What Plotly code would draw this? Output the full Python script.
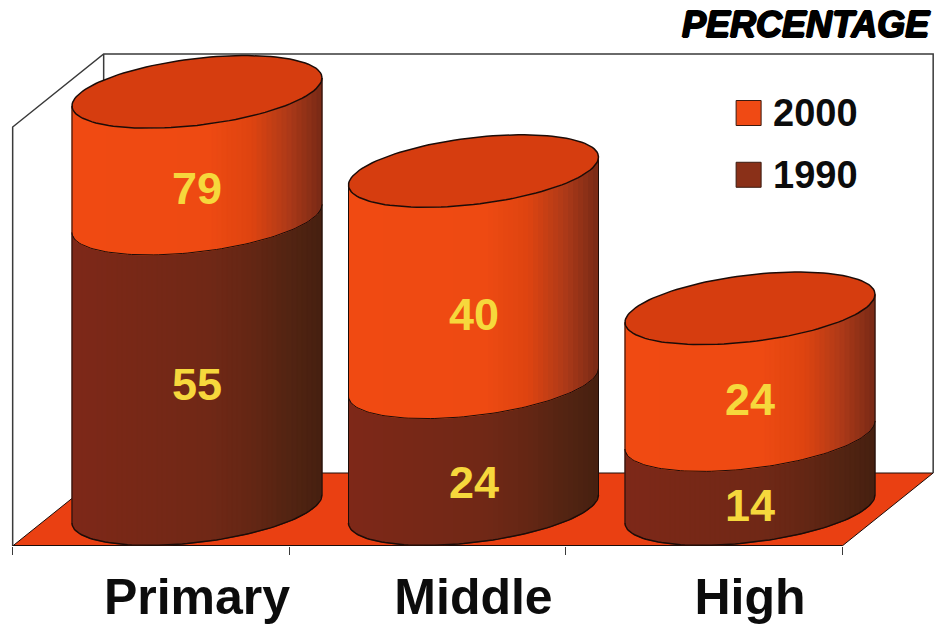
import numpy as np
import plotly.graph_objects as go

categories = ["Primary", "Middle", "High"]
# the printed 2000 label is not always the drawn height, so keep both
values_1990 = [55, 24, 14]
tops_2000 = [79, 64, 38]
labels_2000 = [79, 40, 24]
labels_1990 = [55, 24, 14]
legend_years = ["2000", "1990"]

# styling and geometry of the fake 3D
PX_X = 276.5  # pixels per category
PX_Y = 5.28  # pixels per value unit
X0_PX, Y0_PX = 197.0, 509.0
AXIS_PX = 546.0
HALF_W = 125 / PX_X
TILT = 14 / PX_Y
MINOR = 33.5 / PX_Y
DEPTH_X, DEPTH_Y = 91 / PX_X, 73 / PX_Y
FLOOR_Y = (Y0_PX - AXIS_PX) / PX_Y
WALL_TOP = (Y0_PX - 54) / PX_Y
STRIPS = 50
STOPS = [0, 0.55, 0.72, 0.86, 1]
R_2000 = [[240, 74, 18], [238, 74, 18], [222, 68, 16], [176, 58, 24], [120, 42, 22]]
R_1990 = [[126, 40, 24], [112, 40, 22], [100, 38, 20], [84, 36, 18], [70, 32, 16]]
TOP_COLOR = "#D63D0F"
FLOOR_COLOR = "#EA4012"
OUTLINE = "#1c0c08"
FRAME = "#3a3a3a"
YELLOW = "#F6D83C"
LABEL_NUDGE_2000 = [0, 4, -6]
LABEL_NUDGE_1990 = [13, -3, 0]


def shade(stops, u):
    rgb = [np.interp(u, STOPS, [s[i] for s in stops]) for i in range(3)]
    return "rgb({:.0f},{:.0f},{:.0f})".format(*rgb)


def front_offset(dx):
    # how far the front rim sits from the ellipse centre at horizontal offset dx
    t = np.arccos(np.clip(dx / HALF_W, -1, 1))
    return TILT * np.cos(t) - MINOR * np.sin(t)


def add_band(fig, cx, lo, hi, stops):
    edges = np.linspace(-HALF_W, HALF_W, STRIPS + 1)
    for i in range(STRIPS):
        d1, d2 = edges[i], edges[i + 1]
        o1, o2 = front_offset(d1), front_offset(d2)
        col = shade(stops, (i + 0.5) / STRIPS)
        fig.add_trace(
            go.Scatter(
                x=[cx + d1, cx + d2, cx + d2, cx + d1, cx + d1],
                y=[lo + o1, lo + o2, hi + o2, hi + o1, lo + o1],
                mode="lines",
                fill="toself",
                fillcolor=col,
                line=dict(color=col, width=1),
                hoverinfo="skip",
            )
        )


fig = go.Figure()

for i, cat in enumerate(categories):
    add_band(fig, i, 0, values_1990[i], R_1990)
    add_band(fig, i, values_1990[i], tops_2000[i], R_2000)

    # top cap
    t = np.linspace(0, 2 * np.pi, 121)
    fig.add_trace(
        go.Scatter(
            x=i + HALF_W * np.cos(t),
            y=tops_2000[i] + TILT * np.cos(t) + MINOR * np.sin(t),
            mode="lines",
            fill="toself",
            fillcolor=TOP_COLOR,
            line=dict(color=OUTLINE, width=1.5),
            hoverinfo="skip",
        )
    )

    # rims and sides
    dx = HALF_W * np.cos(np.linspace(0, np.pi, 81))
    for level, w in [(0, 1.5), (values_1990[i], 1)]:
        fig.add_trace(
            go.Scatter(
                x=i + dx,
                y=level + front_offset(dx),
                mode="lines",
                line=dict(color=OUTLINE, width=w),
                hoverinfo="skip",
            )
        )
    for side in (-1, 1):
        d = side * HALF_W
        fig.add_trace(
            go.Scatter(
                x=[i + d, i + d],
                y=[front_offset(d), tops_2000[i] + front_offset(d)],
                mode="lines",
                line=dict(color=OUTLINE, width=1),
                hoverinfo="skip",
            )
        )

    # value labels, centred on the front of each band
    mid_2000 = (values_1990[i] + tops_2000[i]) / 2 - MINOR
    mid_1990 = values_1990[i] / 2 - MINOR
    fig.add_annotation(
        x=i, y=mid_2000, text=f"<b>{labels_2000[i]}</b>", showarrow=False,
        yshift=-LABEL_NUDGE_2000[i], font=dict(size=45, color=YELLOW),
    )
    fig.add_annotation(
        x=i, y=mid_1990, text=f"<b>{labels_1990[i]}</b>", showarrow=False,
        yshift=LABEL_NUDGE_1990[i], font=dict(size=45, color=YELLOW),
    )

# legend keys
for year, col, ly in zip(legend_years, ["#F04A14", "#8A3018"], [75, 63.3]):
    fig.add_trace(
        go.Scatter(
            x=[1.995],
            y=[ly],
            mode="markers",
            marker=dict(symbol="square", size=25, color=col, line=dict(color="#3a1a10", width=1)),
            hoverinfo="skip",
        )
    )
    fig.add_annotation(
        x=2.075, y=ly, xanchor="left", text=f"<b>{year}</b>", showarrow=False,
        font=dict(size=38, color="#0c0c0c"),
    )

fig.add_annotation(
    xref="paper", yref="paper", x=0.997, y=1.0, xanchor="right", yanchor="top", yshift=-2,
    text="<b><i>PERCENTAGE</i></b>", showarrow=False,
    font=dict(size=36, color="#000000", family="Liberation Sans",
              shadow="1px 0 0 #000, -1px 0 0 #000, 0 1px 0 #000, 0 -1px 0 #000"),
)

# floor and walls of the box
left, right = -2 / 3, 2 + 1 / 3
fig.update_layout(
    shapes=[
        dict(type="path", layer="below", fillcolor=FLOOR_COLOR, line=dict(color=OUTLINE, width=1),
             path=f"M {left} {FLOOR_Y} L {left + DEPTH_X} {FLOOR_Y + DEPTH_Y} "
                  f"L {right + DEPTH_X} {FLOOR_Y + DEPTH_Y} L {right} {FLOOR_Y} Z"),
        dict(type="path", layer="below", line=dict(color=FRAME, width=1.5),
             path=f"M {left} {FLOOR_Y} L {left} {WALL_TOP - DEPTH_Y} "
                  f"L {left + DEPTH_X} {WALL_TOP} L {right + DEPTH_X} {WALL_TOP} "
                  f"L {right + DEPTH_X} {FLOOR_Y + DEPTH_Y}"),
        dict(type="line", layer="below", x0=left + DEPTH_X, x1=left + DEPTH_X,
             y0=WALL_TOP, y1=FLOOR_Y + DEPTH_Y, line=dict(color=FRAME, width=1.5)),
        dict(type="line", layer="below", x0=left, x1=right, y0=FLOOR_Y, y1=FLOOR_Y,
             line=dict(color=OUTLINE, width=2)),
    ]
)

fig.update_layout(
    width=935,
    height=625,
    margin=dict(l=0, r=0, t=0, b=625 - AXIS_PX),
    paper_bgcolor="white",
    plot_bgcolor="white",
    showlegend=False,
    font=dict(family="Liberation Sans"),
    xaxis=dict(
        range=[-X0_PX / PX_X, (935 - X0_PX) / PX_X],
        tickvals=[0, 1, 2],
        ticktext=categories,
        tickfont=dict(size=50, color="#0c0c0c", weight="bold"),
        ticks="",
        showgrid=False,
        zeroline=False,
        showline=False,
        ticklabelstandoff=17,
        minor=dict(tickvals=[left, 1 / 3, 4 / 3, right], ticks="outside", ticklen=8,
                   tickcolor=FRAME, tickwidth=1, showgrid=False),
    ),
    yaxis=dict(
        range=[FLOOR_Y, Y0_PX / PX_Y],
        visible=False,
    ),
)

# the page's default body margin would push the chart off by 8 px
fig.write_html(
    "out.html",
    config={"displayModeBar": False},
    post_script="document.body.style.margin='0';",
)
